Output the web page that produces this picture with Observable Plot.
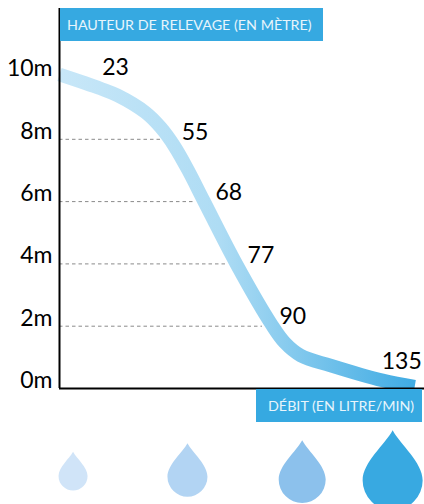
<!DOCTYPE html>
<html lang="fr">
<head>
<meta charset="utf-8">
<script src="https://cdn.jsdelivr.net/npm/d3@7"></script>
<script src="https://cdn.jsdelivr.net/npm/@observablehq/plot@0.6"></script>
<style>
html,body{margin:0;padding:0;background:#fff}
#wrap{position:relative;width:424px;height:504px;overflow:hidden;font-family:Lato,sans-serif}
#wrap svg{display:block;position:absolute;left:0;top:0}
.box{position:absolute;background:#36a9e1;color:#e8f5fc;font-size:14.3px;line-height:33px;height:33px;white-space:nowrap;box-sizing:border-box}
#yt{left:60px;top:8px;width:263px;padding-left:7px}
#xt{left:256px;top:389px;width:166px;padding-left:12px}
</style>
</head>
<body>
<div id="wrap">
<div id="plot"></div>
<div class="box" id="yt">HAUTEUR DE RELEVAGE (EN MÈTRE)</div>
<div class="box" id="xt">DÉBIT (EN LITRE/MIN)</div>
</div>
<script>
// Curve
const curveFlow = [23, 36, 41.4, 50.3, 55.1, 59.5, 64, 68.7, 79.2, 90.3, 94.4, 99.5, 109, 125.5, 135.7];
const curveHeight = [10.08, 9.63, 9.41, 8.86, 8.38, 7.77, 6.97, 6.04, 3.98, 2.05, 1.48, 1.06, 0.74, 0.26, 0.06];
// Value labels
const labels = ["23", "55", "68", "77", "90", "135"];
const labelFlow = [40.8, 66, 76.7, 86.9, 97, 131.6];
const labelHeight = [10.3, 8.2, 6.3, 4.28, 2.3, 0.85];
// Height ticks
const tickHeights = [0, 2, 4, 6, 8, 10];
const guideHeights = [2, 4, 6, 8];
const guideEnd = [87.4, 76, 65.9, 55.7];
// Drops
const dropFlow = [27.3, 63.6, 100, 128.7];
const dropHeight = [-2.81, -2.83, -2.92, -2.95];
const dropRadius = [14.5, 20, 23.5, 30];
const dropColor = ["#d0e4f8", "#b2d4f3", "#8cc1ec", "#38a9e1"];

const drop = {
  draw(ctx, size) {
    const r = Math.sqrt(size / Math.PI);
    ctx.moveTo(0, -1.67 * r);
    ctx.bezierCurveTo(0.25 * r, -1.2 * r, r, -0.6 * r, r, 0);
    ctx.arc(0, 0, r, 0, Math.PI);
    ctx.bezierCurveTo(-r, -0.6 * r, -0.25 * r, -1.2 * r, 0, -1.67 * r);
    ctx.closePath();
  }
};

const defs = () => {
  const ns = "http://www.w3.org/2000/svg";
  const d = document.createElementNS(ns, "defs");
  d.innerHTML = `<linearGradient id="curveGrad" gradientUnits="objectBoundingBox" x1="0" x2="1" y1="0" y2="0">
    <stop offset="0" stop-color="#c8e7f8"/><stop offset="0.45" stop-color="#aedcf4"/><stop offset="1" stop-color="#3fabe3"/></linearGradient>`;
  return d;
};

const chart = Plot.plot({
  width: 424,
  height: 504,
  margin: 0,
  x: {domain: [23, 135], range: [59, 412], axis: null},
  y: {domain: [-3.724, 12.456], range: [504, 0], axis: null},
  r: {type: "identity"},
  style: {fontFamily: "Lato, sans-serif", background: "transparent"},
  marks: [
    defs,
    Plot.ruleY(guideHeights, {
      x1: 23, x2: (d, i) => guideEnd[i],
      stroke: "#8a8a8a", strokeWidth: 1, strokeDasharray: "3.5,3"
    }),
    Plot.line(curveFlow.map((x, i) => [x, curveHeight[i]]), {
      x: d => d[0], y: d => d[1], curve: "catmull-rom",
      stroke: "url(#curveGrad)", strokeWidth: 13.5, strokeLinejoin: "round", strokeLinecap: "butt"
    }),
    Plot.ruleY([0], {x1: 23, x2: 139, stroke: "#000", strokeWidth: 2}),
    Plot.ruleX([23], {y1: 0, y2: 12.2, stroke: "#000", strokeWidth: 2}),
    Plot.text(tickHeights, {
      x: () => 23, y: d => d, text: d => `${d}m`,
      dx: -7, dy: -8, textAnchor: "end", fontSize: 23, fill: "#000"
    }),
    Plot.text(labels, {
      x: (d, i) => labelFlow[i], y: (d, i) => labelHeight[i], text: d => d,
      textAnchor: "middle", fontSize: 23, fill: "#000"
    }),
    Plot.dot(dropFlow.map((x, i) => ({x, y: dropHeight[i], r: dropRadius[i], c: dropColor[i]})), {
      x: "x", y: "y", r: "r", fill: "c", symbol: drop
    })
  ]
});
document.getElementById("plot").appendChild(chart);
</script>
</body>
</html>
